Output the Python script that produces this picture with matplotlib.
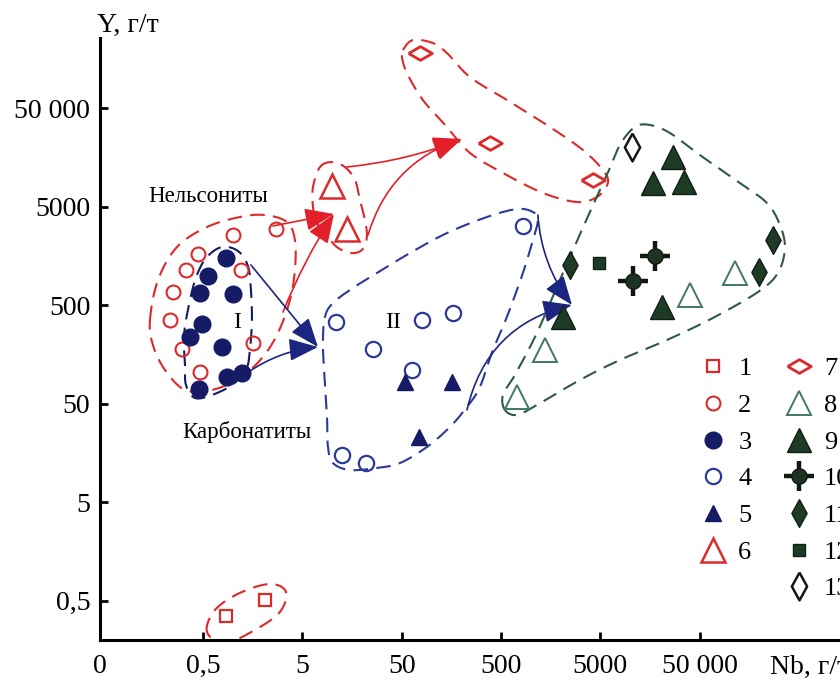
import numpy as np
import matplotlib.pyplot as plt
from matplotlib.lines import Line2D
from matplotlib.ticker import NullLocator

plt.rcParams['font.family'] = ['Liberation Serif', 'DejaVu Serif']

# --- данные (Nb, Y в г/т) ---
g1_nb = [0.85, 2.1]
g1_y = [0.35, 0.51]
g2_nb = [2.7, 1.0, 0.44, 0.34, 0.25, 0.23, 0.31, 0.47, 1.2, 1.6]
g2_y = [3000, 2600, 1650, 1130, 680, 350, 180, 105, 1130, 205]
g3_nb = [0.85, 0.56, 0.47, 1.0, 0.49, 0.37, 0.78, 0.87, 1.24, 0.45]
g3_y = [1500, 1000, 660, 650, 320, 240, 190, 93, 102, 70]
g4_nb = [11, 80, 165, 26, 64, 830, 12.5, 22]
g4_y = [340, 350, 420, 180, 110, 3200, 15, 12.5]
g5_nb = [54, 160, 75]
g5_y = [83, 83, 23]
g6_nb = [10, 14]
g6_y = [8200, 3000]
g7_nb = [77, 390, 4200]
g7_y = [180000, 22000, 9300]
g8_nb = [40000, 114000, 1400, 730]
g8_y = [630, 1050, 175, 58]
g9_nb = [27000, 17000, 35000, 21000, 2100]
g9_y = [16000, 8700, 8800, 480, 380]
g10_nb = [18000, 10700]
g10_y = [1570, 880]
g11_nb = [2500, 275000, 200000]
g11_y = [1270, 2300, 1080]
g12_nb = [4900]
g12_y = [1340]
g13_nb = [10500]
g13_y = [20000]

legend_labels = ['1', '2', '3', '4', '5', '6', '', '7', '8', '9', '10', '11', '12', '13']
xtick_vals = [0.0458, 0.5, 5, 50, 500, 5000, 50000]
xtick_labels = ['0', '0,5', '5', '50', '500', '5000', '50 000']
ytick_vals = [0.5, 5, 50, 500, 5000, 50000]
ytick_labels = ['0,5', '5', '50', '500', '5000', '50 000']

# контуры полей, log10(Nb), log10(Y)
out_sq = ([-0.262, -0.181, 0.070, 0.373, 0.534, 0.473, 0.222, -0.081],
          [-0.619, -0.396, -0.223, -0.132, -0.213, -0.416, -0.599, -0.731])
out_nels = ([-0.836, -0.755, -0.564, -0.262, 0.070, 0.322, 0.544, 0.624, 0.624, 0.574,
             0.453, 0.292, 0.070, -0.211, -0.483, -0.685, -0.806],
            [2.548, 2.954, 3.289, 3.492, 3.594, 3.614, 3.543, 3.360, 3.056, 2.751,
             2.416, 2.162, 1.959, 1.838, 1.838, 2.041, 2.294])
out_I = ([-0.483, -0.493, -0.433, -0.363, -0.262, -0.111, 0.050, 0.151, 0.181, 0.191,
          0.171, 0.131, -0.010, -0.211, -0.383, -0.473],
         [2.091, 2.396, 2.751, 3.005, 3.188, 3.289, 3.249, 3.096, 2.853, 2.548,
          2.244, 2.041, 1.888, 1.787, 1.756, 1.888])
out_tri = ([0.876, 0.997, 1.128, 1.229, 1.279, 1.329, 1.349, 1.299, 1.178, 1.047,
            0.957, 0.846, 0.806, 0.806],
           [4.101, 4.152, 4.101, 3.970, 3.767, 3.563, 3.391, 3.259, 3.228, 3.289,
            3.391, 3.533, 3.695, 3.898])
out_dia = ([1.712, 1.813, 2.014, 2.155, 2.387, 2.759, 3.192, 3.525, 3.726, 3.776,
            3.666, 3.464, 3.122, 2.719, 2.387, 2.155, 1.913, 1.752, 1.702],
           [5.289, 5.391, 5.360, 5.259, 5.015, 4.782, 4.508, 4.274, 4.071, 3.939,
            3.797, 3.746, 3.838, 4.041, 4.244, 4.508, 4.782, 5.056, 5.218])
out_II = ([0.926, 1.007, 1.208, 1.450, 1.782, 2.155, 2.558, 2.860, 3.021, 3.071,
           3.021, 2.920, 2.759, 2.618, 2.487, 2.357, 2.185, 1.954, 1.682, 1.450,
           1.178, 1.007, 0.957, 0.947, 0.916, 0.906],
          [2.579, 2.721, 2.873, 3.025, 3.228, 3.431, 3.594, 3.675, 3.645, 3.563,
           3.360, 3.025, 2.579, 2.244, 1.868, 1.665, 1.462, 1.259, 1.096, 1.046,
           1.025, 1.096, 1.259, 1.563, 2.061, 2.335])
out_green = ([2.739, 2.719, 2.840, 3.061, 3.323, 3.595, 3.766, 3.897, 4.048, 4.199,
              4.401, 4.703, 5.106, 5.378, 5.509, 5.559, 5.488, 5.287, 4.834, 4.371,
              3.897, 3.494, 3.061, 2.860],
             [1.635, 1.787, 1.990, 2.416, 3.025, 3.645, 4.020, 4.325, 4.508, 4.528,
              4.447, 4.223, 3.939, 3.736, 3.513, 3.279, 3.025, 2.832, 2.569, 2.345,
              2.142, 1.939, 1.685, 1.584])

# стрелки: начало, конец (log10), кривизна
arrows_red = [((0.403, 3.503), (1.017, 3.624), 0.0),
              ((0.504, 2.629), (1.017, 3.624), -0.05),
              ((1.148, 4.102), (2.306, 4.386), 0.07),
              ((1.360, 3.411), (2.306, 4.386), -0.26)]
arrows_blue = [((0.181, 3.107), (0.856, 2.274), 0.0),
               ((0.141, 2.010), (0.856, 2.274), -0.13),
               ((3.071, 3.614), (3.414, 2.701), 0.15),
               ((2.357, 1.635), (3.414, 2.701), -0.31)]

red = '#dc2a2a'
navy = '#161b66'
blue = '#2b3a9a'
dgreen = '#1d3b25'
lgreen = '#3f7a5e'
gline = '#2f5a3e'

flat_dia = [(-1, 0), (0, 0.58), (1, 0), (0, -0.58), (-1, 0)]
tall_dia = [(0, 1), (0.55, 0), (0, -1), (-0.55, 0), (0, 1)]


def smooth_closed(lx, ly, n=24):
    # замкнутая кривая Катмулла-Рома в логарифмических координатах
    pts = np.column_stack([lx, ly])
    P = np.vstack([pts[-1], pts, pts[0], pts[1]])
    t = np.linspace(0, 1, n, endpoint=False)[:, None]
    segs = []
    for i in range(1, len(pts) + 1):
        p0, p1, p2, p3 = P[i - 1], P[i], P[i + 1], P[i + 2]
        segs.append(0.5 * (2 * p1 + (-p0 + p2) * t + (2 * p0 - 5 * p1 + 4 * p2 - p3) * t ** 2
                           + (-p0 + 3 * p1 - 3 * p2 + p3) * t ** 3))
    segs.append(pts[:1])
    c = np.vstack(segs)
    return 10 ** c[:, 0], 10 ** c[:, 1]


fig = plt.figure(figsize=(8.4, 6.87), dpi=100)
ax = fig.add_axes([100 / 840, 47 / 687, 740 / 840, 602 / 687])
ax.set_xscale('log')
ax.set_yscale('log')
ax.set_xlim(0.0458, 1.3e6)
ax.set_ylim(0.199, 2.58e5)
ax.spines['top'].set_visible(False)
ax.spines['right'].set_visible(False)
for s in ['left', 'bottom']:
    ax.spines[s].set_linewidth(2.2)
ax.xaxis.set_minor_locator(NullLocator())
ax.yaxis.set_minor_locator(NullLocator())
ax.set_xticks(xtick_vals)
ax.set_xticklabels(xtick_labels)
ax.set_yticks(ytick_vals)
ax.set_yticklabels(ytick_labels)
ax.tick_params(direction='in', length=6, width=2, labelsize=20)
ax.tick_params(axis='x', pad=10)
ax.tick_params(axis='y', pad=7)

dash = (0, (7, 4))
for o, col in [(out_sq, red), (out_nels, red), (out_tri, red), (out_dia, red),
               (out_I, navy), (out_II, blue), (out_green, gline)]:
    ax.plot(*smooth_closed(*o), color=col, lw=1.5, ls=dash, zorder=2)

for arrs, col in [(arrows_red, '#e3202a'), (arrows_blue, '#1c2680')]:
    for (s, e, rad) in arrs:
        ax.annotate('', xy=(10 ** e[0], 10 ** e[1]), xytext=(10 ** s[0], 10 ** s[1]),
                    arrowprops=dict(arrowstyle='-|>,head_length=0.9,head_width=0.35',
                                    color=col, lw=1.2, mutation_scale=20,
                                    shrinkA=0, shrinkB=0,
                                    connectionstyle='arc3,rad=%s' % rad), zorder=3)

styles = [
    dict(marker='s', ms=8.5, mfc='none', mec=red, mew=1.6),
    dict(marker='o', ms=10, mfc='none', mec=red, mew=1.5),
    dict(marker='o', ms=12, mfc=navy, mec=navy, mew=1),
    dict(marker='o', ms=11, mfc='none', mec=blue, mew=1.6),
    dict(marker='^', ms=12, mfc=navy, mec=navy, mew=1),
    dict(marker='^', ms=17, mfc='none', mec=red, mew=1.8),
    dict(marker=flat_dia, ms=17, mfc='none', mec=red, mew=2),
    dict(marker='^', ms=17, mfc='none', mec=lgreen, mew=1.4),
    dict(marker='^', ms=17, mfc=dgreen, mec='#0f1f14', mew=1),
    None,
    dict(marker=tall_dia, ms=20, mfc=dgreen, mec='#0f1f14', mew=1),
    dict(marker='s', ms=8.5, mfc=dgreen, mec='#0f1f14', mew=1),
    dict(marker=tall_dia, ms=20, mfc='none', mec='#151515', mew=1.8),
]
cross_o = dict(marker='o', ms=11, mfc='#1e3323', mec='#101a12', mew=1)
cross_p = dict(marker='+', ms=22, mec='#101a12', mew=3.2)

groups = [(g1_nb, g1_y), (g2_nb, g2_y), (g3_nb, g3_y), (g4_nb, g4_y), (g5_nb, g5_y),
          (g6_nb, g6_y), (g7_nb, g7_y), (g8_nb, g8_y), (g9_nb, g9_y), (g10_nb, g10_y),
          (g11_nb, g11_y), (g12_nb, g12_y), (g13_nb, g13_y)]

handles = []
for (xs, ys), st in zip(groups, styles):
    if st is None:
        ax.plot(xs, ys, ls='none', zorder=4, **cross_p)
        ax.plot(xs, ys, ls='none', zorder=5, **cross_o)
        handles.append((Line2D([], [], ls='none', **cross_p), Line2D([], [], ls='none', **cross_o)))
    else:
        ax.plot(xs, ys, ls='none', zorder=4, **st)
        handles.append(Line2D([], [], ls='none', **st))
handles.insert(6, Line2D([], [], ls='none'))

ax.legend(handles, legend_labels, ncol=2, loc='upper left',
          bbox_to_anchor=(700 / 840, 1 - 357 / 687), bbox_transform=fig.transFigure,
          frameon=False, fontsize=19, handlelength=1.0, handletextpad=0.45,
          columnspacing=1.3, labelspacing=0.5, borderpad=0, borderaxespad=0)

ax.text(0.139, 6270, 'Нельсониты', fontsize=16.5, va='center', ha='left')
ax.text(0.306, 25.8, 'Карбонатиты', fontsize=16.5, va='center', ha='left')
ax.text(1.10, 337, 'I', fontsize=17, va='center', ha='center')
ax.text(40.8, 337, 'II', fontsize=17, va='center', ha='center')

fig.text(97 / 840, 1 - 25 / 687, 'Y, г/т', fontsize=20, va='center', ha='left')
fig.text(770 / 840, 1 - 667 / 687, 'Nb, г/т', fontsize=20, va='center', ha='left')

fig.savefig('out.png', dpi=100)
